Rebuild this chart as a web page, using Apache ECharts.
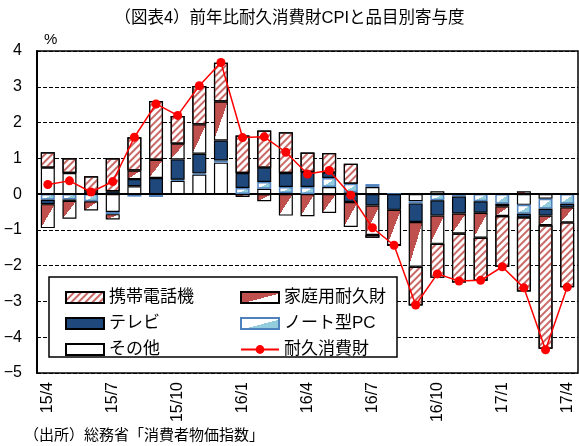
<!DOCTYPE html>
<html>
<head>
<meta charset="utf-8">
<script src="https://cdn.jsdelivr.net/npm/echarts@6/dist/echarts.min.js"></script>
<style>
  html, body { margin: 0; padding: 0; background: #fff; }
  #chart { width: 579px; height: 446px; }
</style>
</head>
<body>
<div id="chart"></div>
<script>
    // 月次（前年比, %）
    const months = ['15/4', '15/5', '15/6', '15/7', '15/8', '15/9', '15/10', '15/11', '15/12',
                    '16/1', '16/2', '16/3', '16/4', '16/5', '16/6', '16/7', '16/8', '16/9',
                    '16/10', '16/11', '16/12', '17/1', '17/2', '17/3', '17/4'];
    const others    = [0.74, 0.59, 0, -0.50, 0.22, 0, 0.37, 0.55, 0.88, 0, 0.15, 0.03, 0, 0.20, 0.05,
                       0.20, 0, -0.20, 0.08, 0, 0, 0, -0.30, -0.13, 0];
    const notePC    = [-0.16, -0.15, -0.20, -0.06, -0.07, -0.08, 0.03, 0.03, 0.06, 0.17, 0.19, 0.17, 0.20, 0.25, 0.24,
                       0.08, 0, -0.06, -0.17, -0.07, -0.20, -0.27, -0.25, -0.28, -0.27];
    const tv        = [-0.12, -0.04, 0.07, 0.08, 0.20, 0.45, 0.57, 0.55, 0.56, 0.42, 0.40, 0.39, 0.42, 0.15, -0.22,
                       -0.32, -0.44, -0.52, -0.43, -0.47, -0.32, -0.07, -0.10, -0.19, -0.10];
    const household = [-0.67, -0.50, -0.26, -0.15, 0.24, 0.51, 0.44, 0.82, 1.09, -0.08, -0.20, -0.60, -0.62, -0.53, -0.70,
                       -0.82, -0.99, -1.25, -0.79, -0.56, -0.70, -0.27, 0.08, -0.27, -0.42];
    const mobile    = [0.43, 0.41, 0.43, 0.92, 0.93, 1.64, 0.77, 1.07, 1.08, 1.05, 1.04, 1.14, 0.54, 0.55, 0.56,
                       -0.08, 0, -1.08, -0.95, -1.37, -1.20, -1.42, -2.07, -3.45, -1.81];
    const durables  = [0.27, 0.37, 0.06, 0.35, 1.59, 2.52, 2.20, 3.03, 3.68, 1.58, 1.60, 1.17, 0.56, 0.66, -0.03,
                       -0.94, -1.43, -3.10, -2.23, -2.43, -2.41, -2.03, -2.62, -4.35, -2.60];
    const yMin = -5, yMax = 4, yStep = 1;

    const FONT = "'Liberation Sans', 'Noto Sans CJK JP', sans-serif";
    const RED = '#C0504D', NAVY = '#1F497D', AQUA = '#93CDDD', BLUE = '#4F81BD';
    const BAR_W = 14;
    const GRID_TOP = 51, GRID_BOTTOM = 73;
    const UNIT_PX = (446 - GRID_TOP - GRID_BOTTOM) / (yMax - yMin);

    // 右上→左下の対角線で二色に塗り分ける（Excel風）
    function diagFill(w, h, c1, c2) {
        h = Math.max(h, 1);
        let x2 = 2 * h * h / (w * w + h * h);
        let y2 = 2 * w * w / (w * w + h * h);
        return new echarts.graphic.LinearGradient(0, 0, x2, y2, [
            {offset: 0, color: c1}, {offset: 0.5, color: c1},
            {offset: 0.5, color: c2}, {offset: 1, color: c2}
        ]);
    }
    function diagData(arr, c1, c2) {
        return arr.map(v => ({
            value: v,
            itemStyle: {color: diagFill(BAR_W, Math.abs(v) * UNIT_PX, c1, c2)}
        }));
    }

    let chart = echarts.init(document.getElementById('chart'));
    let option = {
        animation: false,
        backgroundColor: '#fff',
        title: {
            text: '（図表4）前年比耐久消費財CPIと品目別寄与度',
            left: 'center',
            top: 5,
            textStyle: {fontFamily: FONT, fontSize: 16.5, fontWeight: 'normal', color: '#000'}
        },
        grid: {
            top: GRID_TOP, bottom: GRID_BOTTOM, left: 37, right: 1,
            show: true, borderColor: '#000', borderWidth: 1.5
        },
        legend: [{
            orient: 'vertical',
            left: 60, top: 284,
            itemWidth: 38, itemHeight: 11, itemGap: 9,
            selectedMode: false,
            textStyle: {fontFamily: FONT, fontSize: 17, color: '#000', lineHeight: 17},
            data: [{name: '携帯電話機', icon: 'rect'}, {name: 'テレビ', icon: 'rect'}, {name: 'その他', icon: 'rect'}]
        }, {
            orient: 'vertical',
            left: 235, top: 284,
            itemWidth: 38, itemHeight: 11, itemGap: 9,
            selectedMode: false,
            textStyle: {fontFamily: FONT, fontSize: 17, color: '#000', lineHeight: 17},
            data: [{name: '家庭用耐久財', icon: 'rect'}, {name: 'ノート型PC', icon: 'rect'}, {name: '耐久消費財'}]
        }],
        graphic: [
            {type: 'rect', z: 3, shape: {x: 49, y: 277, width: 348, height: 80},
             style: {fill: '#fff', stroke: '#000', lineWidth: 1.5}},
            {type: 'text', z: 5, left: 44, top: 32,
             style: {text: '%', font: '15px ' + FONT, fill: '#000'}},
            {type: 'text', z: 5, left: 24, top: 428,
             style: {text: '（出所）総務省「消費者物価指数」', font: '15px ' + FONT, fill: '#000'}}
        ],
        xAxis: {
            type: 'category',
            data: months,
            axisLine: {show: true, lineStyle: {color: '#000', width: 2}},
            axisTick: {show: false},
            axisLabel: {
                interval: 2, rotate: 90, margin: 9,
                fontFamily: FONT, fontSize: 16, color: '#000'
            }
        },
        yAxis: {
            type: 'value',
            min: yMin, max: yMax, interval: yStep,
            axisLine: {show: true, lineStyle: {color: '#000', width: 2}},
            axisTick: {show: false},
            axisLabel: {
                margin: 15, fontFamily: FONT, fontSize: 16, color: '#000',
                formatter: v => v < 0 ? '−' + Math.abs(v) : String(v)
            },
            splitLine: {show: true, lineStyle: {color: '#000', type: [4, 2], width: 1}}
        },
        series: [{
            name: 'その他', type: 'bar', stack: 'total', barWidth: BAR_W,
            itemStyle: {color: '#fff', borderColor: '#000', borderWidth: 1.2},
            data: others
        }, {
            name: 'ノート型PC', type: 'bar', stack: 'total', barWidth: BAR_W,
            itemStyle: {color: diagFill(38, 11, '#fff', AQUA), borderColor: BLUE, borderWidth: 1.5},
            data: diagData(notePC, '#fff', AQUA)
        }, {
            name: 'テレビ', type: 'bar', stack: 'total', barWidth: BAR_W,
            itemStyle: {color: NAVY, borderColor: '#000', borderWidth: 1.2},
            data: tv
        }, {
            name: '家庭用耐久財', type: 'bar', stack: 'total', barWidth: BAR_W,
            itemStyle: {color: diagFill(38, 11, RED, '#fff'), borderColor: '#000', borderWidth: 1.2},
            data: diagData(household, RED, '#fff')
        }, {
            name: '携帯電話機', type: 'bar', stack: 'total', barWidth: BAR_W,
            itemStyle: {
                color: '#fff', borderColor: '#000', borderWidth: 1.2,
                decal: {
                    symbol: 'rect', symbolSize: 1, color: 'rgba(192,80,77,0.85)',
                    dashArrayX: [1, 0], dashArrayY: [2, 3], rotation: -Math.PI / 4
                }
            },
            data: mobile
        }, {
            name: '耐久消費財', type: 'line', z: 6,
            symbol: 'circle', symbolSize: 9,
            itemStyle: {color: '#FF0000'},
            lineStyle: {color: '#FF0000', width: 1.5},
            data: durables,
            markLine: {
                silent: true, symbol: ['none', 'none'], label: {show: false},
                lineStyle: {color: '#000', type: 'solid', width: 1.2},
                data: [{yAxis: 0}]
            }
        }]
    };
    chart.setOption(option);
</script>
</body>
</html>
